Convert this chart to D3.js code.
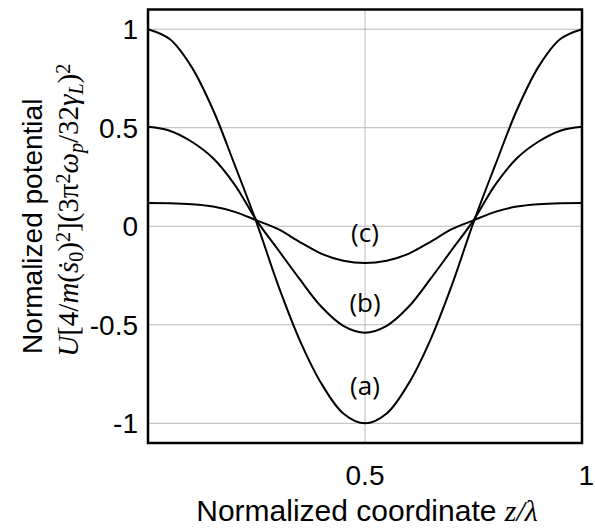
<!DOCTYPE html>
<html>
<head>
<meta charset="utf-8">
<script src="https://cdn.jsdelivr.net/npm/d3@7"></script>
<style>
  body { margin: 0; background: #fff; }
  svg { display: block; }
</style>
</head>
<body>
<script>
// values, z/lambda from 0 to 1
const zValues = [0, 0.05, 0.1, 0.15, 0.2, 0.25, 0.3, 0.35, 0.4, 0.45, 0.5,
                 0.55, 0.6, 0.65, 0.7, 0.75, 0.8, 0.85, 0.9, 0.95, 1];
const curveA = [1, 0.95, 0.81, 0.59, 0.31, 0.02, -0.30, -0.58, -0.80, -0.95, -1.0,
                -0.95, -0.80, -0.58, -0.30, 0.02, 0.31, 0.59, 0.81, 0.95, 1];
const curveB = [0.505, 0.485, 0.43, 0.345, 0.21, 0.03, -0.12, -0.27, -0.41, -0.505, -0.54,
                -0.505, -0.41, -0.27, -0.12, 0.03, 0.21, 0.345, 0.43, 0.485, 0.505];
const curveC = [0.118, 0.117, 0.112, 0.10, 0.073, 0.03, -0.015, -0.08, -0.14, -0.175, -0.187,
                -0.175, -0.14, -0.08, -0.015, 0.03, 0.073, 0.10, 0.112, 0.117, 0.118];
const curveNames = ['(a)', '(b)', '(c)'];
const labelValues = [-0.81, -0.39, -0.035];
const xTicks = [0.5, 1];
const yTicks = [-1, -0.5, 0, 0.5, 1];

const width = 595, height = 529;
const margin = { top: 9.5, right: 13, bottom: 86, left: 148 };

const svg = d3.select('body').append('svg')
  .attr('width', width).attr('height', height);

const x = d3.scaleLinear().domain([0, 1]).range([margin.left, width - margin.right]);
const y = d3.scaleLinear().domain([-1.1, 1.1]).range([height - margin.bottom, margin.top]);

// grid
svg.append('g').selectAll('line').data(yTicks).enter().append('line')
  .attr('x1', x(0)).attr('x2', x(1))
  .attr('y1', d => y(d)).attr('y2', d => y(d))
  .attr('stroke', '#b8b8b8').attr('stroke-width', 1);
svg.append('line')
  .attr('x1', x(0.5)).attr('x2', x(0.5))
  .attr('y1', y(1.1)).attr('y2', y(-1.1))
  .attr('stroke', '#b8b8b8').attr('stroke-width', 1);

// curves
const line = d3.line()
  .x((d, i) => x(zValues[i]))
  .y(d => y(d))
  .curve(d3.curveCatmullRom.alpha(0.5));

svg.append('g').selectAll('path').data([curveA, curveB, curveC]).enter().append('path')
  .attr('d', line)
  .attr('fill', 'none')
  .attr('stroke', '#000')
  .attr('stroke-width', 2);

// frame
svg.append('rect')
  .attr('x', x(0)).attr('y', y(1.1))
  .attr('width', x(1) - x(0)).attr('height', y(-1.1) - y(1.1))
  .attr('fill', 'none').attr('stroke', '#000').attr('stroke-width', 2.5);

// curve labels
svg.append('g').selectAll('text').data(curveNames).enter().append('text')
  .attr('x', x(0.5))
  .attr('y', (d, i) => y(labelValues[i]))
  .attr('dy', '0.35em')
  .attr('text-anchor', 'middle')
  .style('font-family', '"Open Sans", sans-serif')
  .style('font-size', '26px')
  .text(d => d);

// y tick labels
svg.append('g').selectAll('text').data(yTicks).enter().append('text')
  .attr('x', margin.left - 10)
  .attr('y', d => y(d))
  .attr('dy', '0.36em')
  .attr('text-anchor', 'end')
  .style('font-family', '"Liberation Sans", Arial, sans-serif')
  .style('font-size', '28px')
  .text(d => d3.format('')(d).replace('−', '-'));

// x tick labels (the "1" sits right of the frame, against the page edge)
svg.append('g').selectAll('text').data(xTicks).enter().append('text')
  .attr('x', d => d === 1 ? width - 1 : x(d))
  .attr('y', 485)
  .attr('text-anchor', d => d === 1 ? 'end' : 'middle')
  .style('font-family', '"Liberation Sans", Arial, sans-serif')
  .style('font-size', '28px')
  .text(d => d);

// x axis title
const xt = svg.append('text')
  .attr('x', x(0.5) + 2).attr('y', 521)
  .attr('text-anchor', 'middle')
  .style('font-family', '"Liberation Sans", Arial, sans-serif')
  .style('font-size', '30px');
xt.append('tspan').text('Normalized coordinate ');
xt.append('tspan').style('font-family', '"Liberation Serif", serif').style('font-style', 'italic').text('z/λ');

// y axis title, two lines
svg.append('text')
  .attr('transform', `translate(42,${y(0)}) rotate(-90)`)
  .attr('text-anchor', 'middle')
  .style('font-family', '"Liberation Sans", Arial, sans-serif')
  .style('font-size', '28px')
  .text('Normalized potential');

const yt = svg.append('text')
  .attr('transform', `translate(78,${y(0) - 16}) rotate(-90)`)
  .attr('text-anchor', 'middle')
  .style('font-family', '"Liberation Serif", serif')
  .style('font-size', '29px');
const parts = [
  ['U', 'i'], ['[4/', 'n'], ['m', 'i'], ['(', 'n'], ['ṡ', 'i'], ['0', 'sub'], [')', 'n'], ['2', 'sup'],
  [']', 'n'], ['(3π', 'n'], ['2', 'sup'], ['ω', 'i'], ['p', 'isub'], ['/32', 'n'], ['γ', 'i'], ['L', 'isub'],
  [')', 'n'], ['2', 'sup']
];
parts.forEach(p => {
  const t = yt.append('tspan').text(p[0]);
  if (p[1] === 'i' || p[1] === 'isub') t.style('font-style', 'italic');
  if (p[1] === 'sub' || p[1] === 'isub') t.attr('baseline-shift', '-25%').style('font-size', '20px');
  if (p[1] === 'sup') t.attr('baseline-shift', '40%').style('font-size', '20px');
});
</script>
</body>
</html>
